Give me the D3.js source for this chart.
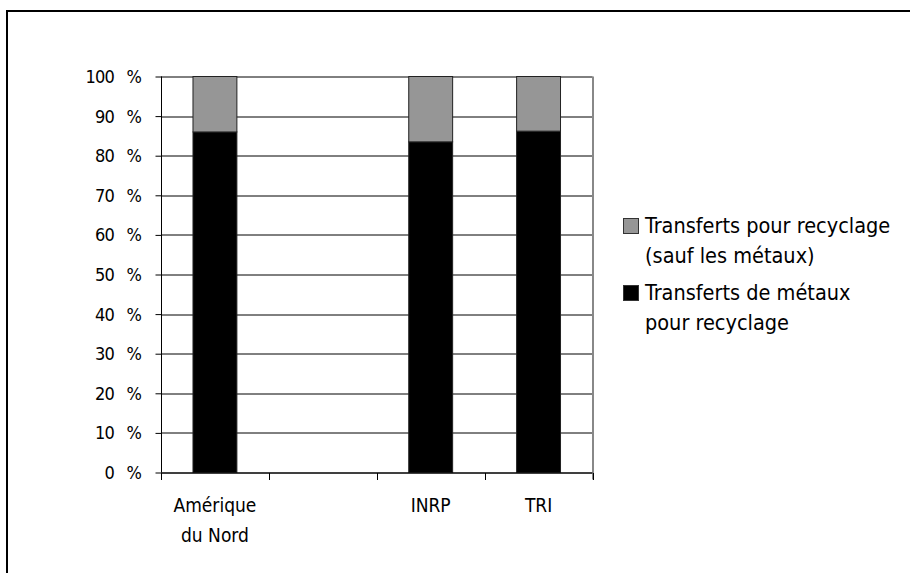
<!DOCTYPE html>
<html>
<head>
<meta charset="utf-8">
<script src="https://cdn.jsdelivr.net/npm/d3@7"></script>
<style>
  body { margin: 0; background: #fff; }
  text { font-family: "Liberation Sans Narrow", "Arial Narrow", "DejaVu Sans Condensed", sans-serif; fill: #000; }
</style>
</head>
<body>
<div id="chart"></div>
<script>
var svgWidth = 910;
var svgHeight = 573;

// categories (second slot is an empty category in the original)
var categories = ["Amérique du Nord", "", "INRP", "TRI"];
var metalTransfers = [86.0, 0, 83.5, 86.2];
var otherTransfers = [14.0, 0, 16.5, 13.8];
var yTicks = [0, 10, 20, 30, 40, 50, 60, 70, 80, 90, 100];
var seriesNames = ["Transferts de métaux pour recyclage", "Transferts pour recyclage (sauf les métaux)"];
var seriesColors = ["#000000", "#969696"];

var chartMargin = { top: 76.5, right: 317.5, bottom: 100.5, left: 161 };
var chartWidth = svgWidth - chartMargin.left - chartMargin.right;
var chartHeight = svgHeight - chartMargin.top - chartMargin.bottom;

var svg = d3.select("#chart")
    .append("svg")
    .attr("width", svgWidth)
    .attr("height", svgHeight);

// outer frame (right and bottom edges fall outside the picture)
svg.append("rect")
    .attr("x", 7)
    .attr("y", 11)
    .attr("width", 1000)
    .attr("height", 1000)
    .attr("fill", "none")
    .attr("stroke", "#000")
    .attr("stroke-width", 2);

var chartGroup = svg.append("g")
    .attr("transform", `translate(${chartMargin.left}, ${chartMargin.top})`);

var rows = categories.map(function(c, i) {
    return { cat: c, key: "c" + i, metals: metalTransfers[i], other: otherTransfers[i] };
});

var xScale = d3.scaleBand()
    .domain(rows.map(d => d.key))
    .range([0, chartWidth])
    .paddingInner(0.593)
    .paddingOuter(0.2965);

var yScale = d3.scaleLinear()
    .domain([0, 100])
    .range([chartHeight, 0]);

// gridlines
chartGroup.append("g")
    .selectAll("line")
    .data(yTicks)
    .enter()
    .append("line")
    .attr("x1", 0)
    .attr("x2", chartWidth)
    .attr("y1", d => Math.round(yScale(d)) + 0.5)
    .attr("y2", d => Math.round(yScale(d)) + 0.5)
    .attr("stroke", "#000")
    .attr("stroke-width", 1);

// right edge of plot area
chartGroup.append("line")
    .attr("x1", chartWidth + 0.5)
    .attr("x2", chartWidth + 0.5)
    .attr("y1", 0)
    .attr("y2", chartHeight + 7)
    .attr("stroke", "#888")
    .attr("stroke-width", 2);

var stack = d3.stack().keys(["metals", "other"]);
var stacked = stack(rows);

chartGroup.selectAll(".series")
    .data(stacked)
    .enter()
    .append("g")
    .attr("class", "series")
    .attr("fill", (d, i) => seriesColors[i])
    .selectAll("rect")
    .data(d => d.filter(p => p[1] > p[0]))
    .enter()
    .append("rect")
    .attr("x", d => xScale(d.data.key))
    .attr("width", xScale.bandwidth())
    .attr("y", d => yScale(d[1]))
    .attr("height", d => yScale(d[0]) - yScale(d[1]))
    .attr("stroke", "#222")
    .attr("stroke-width", 1);

// y axis
var leftAxis = d3.axisLeft(yScale)
    .tickValues(yTicks)
    .tickSize(6)
    .tickFormat("");

var yaxis = chartGroup.append("g")
    .attr("transform", "translate(0.5, 0)")
    .call(leftAxis);
yaxis.select(".domain").attr("stroke", "#000").attr("d", `M0,0V${chartHeight}`);
yaxis.selectAll(".tick line").attr("stroke", "#000");

var yLabels = chartGroup.append("g");
yLabels.selectAll(".num")
    .data(yTicks)
    .enter()
    .append("text")
    .attr("x", -47)
    .attr("y", d => yScale(d))
    .attr("dy", "0.36em")
    .attr("text-anchor", "end")
    .style("font-size", "18px")
    .style("letter-spacing", "-0.8px")
    .text(d => d);
yLabels.selectAll(".pct")
    .data(yTicks)
    .enter()
    .append("text")
    .attr("x", -19)
    .attr("y", d => yScale(d))
    .attr("dy", "0.36em")
    .attr("text-anchor", "end")
    .style("font-size", "18px")
    .text("%");

// x axis with ticks between categories
var xaxis = chartGroup.append("g")
    .attr("transform", `translate(0, ${chartHeight + 0.5})`);
xaxis.append("line")
    .attr("x1", 0)
    .attr("x2", chartWidth)
    .attr("stroke", "#000");
xaxis.selectAll(".tick")
    .data(d3.range(categories.length + 1))
    .enter()
    .append("line")
    .attr("x1", i => Math.round(i * xScale.step()) + 0.5)
    .attr("x2", i => Math.round(i * xScale.step()) + 0.5)
    .attr("y1", 0)
    .attr("y2", 7)
    .attr("stroke", "#000");

xaxis.selectAll(".cat")
    .data(rows)
    .enter()
    .append("text")
    .attr("text-anchor", "middle")
    .attr("x", d => xScale(d.key) + xScale.bandwidth() / 2)
    .style("font-size", "19px")
    .each(function(d) {
        var words = d.cat === "Amérique du Nord" ? ["Amérique", "du Nord"] : [d.cat];
        var t = d3.select(this);
        words.forEach(function(w, j) {
            t.append("tspan")
                .attr("x", xScale(d.key) + xScale.bandwidth() / 2)
                .attr("y", 39 + j * 30)
                .text(w);
        });
    });

// legend
var legendItems = [
    { color: seriesColors[1], lines: ["Transferts pour recyclage", "(sauf les métaux)"], y: 218 },
    { color: seriesColors[0], lines: ["Transferts de métaux", "pour recyclage"], y: 285 }
];
var legend = svg.append("g");
legendItems.forEach(function(item) {
    legend.append("rect")
        .attr("x", 623.5)
        .attr("y", item.y + 0.5)
        .attr("width", 15)
        .attr("height", 15)
        .attr("fill", item.color)
        .attr("stroke", "#333");
    item.lines.forEach(function(line, j) {
        legend.append("text")
            .attr("x", 645)
            .attr("y", item.y + 15 + j * 30)
            .style("font-size", "21.5px")
            .text(line);
    });
});
</script>
</body>
</html>
